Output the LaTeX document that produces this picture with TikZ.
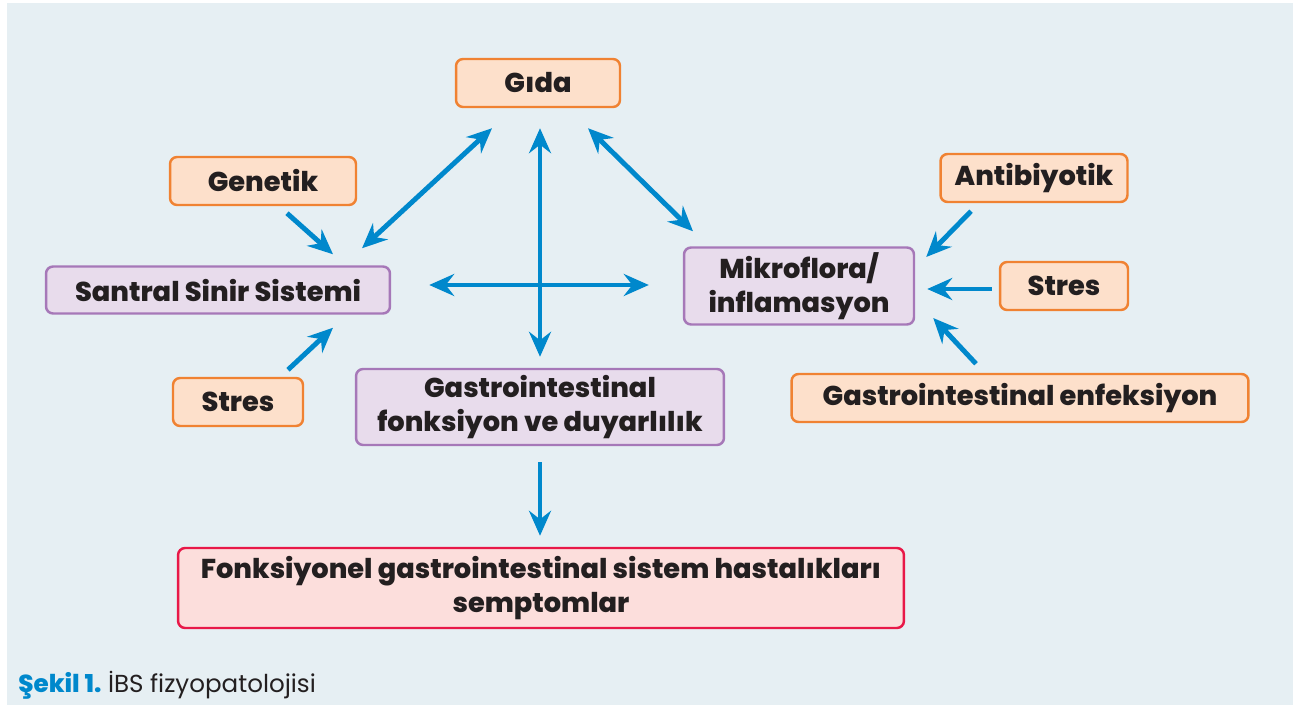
\documentclass[tikz,border=0pt]{standalone}
\usepackage{fontspec}
\setmainfont{Poppins}[BoldFont=* ExtraBold]
\usepackage{tikz}
\usetikzlibrary{arrows.meta, positioning}
\usepackage{xcolor}
\definecolor{bggray}{RGB}{230, 239, 243}
\definecolor{arrowblue}{RGB}{0, 136, 204}
\definecolor{causeorange}{RGB}{240, 130, 50}
\definecolor{causefill}{RGB}{253, 224, 203}
\definecolor{hubpurple}{RGB}{166, 120, 184}
\definecolor{hubfill}{RGB}{232, 220, 236}
\definecolor{resultred}{RGB}{232, 24, 72}
\definecolor{resultfill}{RGB}{252, 222, 220}
\definecolor{textdark}{RGB}{35, 31, 32}

\begin{document}
\begin{tikzpicture}[
    x=0.02cm, y=-0.02cm,
    box/.style={rectangle, rounded corners=4pt, line width=1.4pt, align=center, inner sep=0pt, text=textdark, font=\fontsize{15.5}{19.5}\selectfont\bfseries},
    cause/.style={box, draw=causeorange, fill=causefill, minimum height=0.96cm},
    hub/.style={box, draw=hubpurple, fill=hubfill},
    result/.style={box, draw=resultred, fill=resultfill},
    arrow/.style={-{Stealth[length=5mm, width=4.4mm, inset=1.7mm]}, line width=2.8pt, color=arrowblue},
    twoway/.style={arrow, {Stealth[length=5mm, width=4.4mm, inset=1.7mm]}-{Stealth[length=5mm, width=4.4mm, inset=1.7mm]}},
]

% Page and panel
\useasboundingbox (0, 0) rectangle (1293, 705);
\fill[white] (0, 0) rectangle (1293, 705);
\fill[bggray] (7, 3) rectangle (1293, 705);

% Causes
\node[cause, minimum width=3.28cm] (gida) at (538, 83) {Gıda};
\node[cause, minimum width=3.72cm] (genetik) at (263, 181) {Genetik};
\node[cause, minimum width=2.6cm] (stresL) at (238, 402) {Stres};
\node[cause, minimum width=3.74cm] (antibiyotik) at (1034, 178) {Antibiyotik};
\node[cause, minimum width=2.56cm] (stresR) at (1064, 286) {Stres};
\node[cause, minimum width=9.14cm] (gienf) at (1020, 398) {Gastrointestinal enfeksiyon};

% Central systems
\node[hub, minimum width=6.88cm, minimum height=0.94cm] (sss) at (218, 290) {Santral Sinir Sistemi};
\node[hub, minimum width=4.6cm, minimum height=1.54cm] (mikro) at (799, 286) {Mikroflora/\\inflamasyon};
\node[hub, minimum width=7.36cm, minimum height=1.52cm] (gfd) at (540, 407) {Gastrointestinal\\fonksiyon ve duyarlılık};

% Outcome
\node[result, minimum width=14.52cm, minimum height=1.6cm] (fgsh) at (541, 588) {Fonksiyonel gastrointestinal sistem hastalıkları\\semptomlar};

% Arrows
\draw[arrow] ([shift={(24, 7)}]genetik.south) -- ([shift={(115, -11)}]sss.north);
\draw[arrow] ([shift={(50, -7)}]stresL.north) -- ([shift={(115, 13)}]sss.south);
\draw[twoway] ([shift={(144, -17)}]sss.north) -- ([shift={(-46, 20)}]gida.south);
\draw[twoway] ([shift={(2, 20)}]gida.south) -- ([shift={(0, -11)}]gfd.north);
\draw[twoway] ([shift={(38, -5)}]sss.east) -- ([shift={(-34, -1)}]mikro.west);
\draw[twoway] ([shift={(50, 20)}]gida.south) -- ([shift={(-106, -15)}]mikro.north);
\draw[arrow] ([shift={(0, 16)}]gfd.south) -- ([shift={(-1, -11)}]fgsh.north);
\draw[arrow] ([shift={(-63, 8)}]antibiyotik.south) -- ([shift={(11, -29)}]mikro.east);
\draw[arrow] ([shift={(-7, 3)}]stresR.west) -- ([shift={(12, 3)}]mikro.east);
\draw[arrow] ([shift={(-44, -9)}]gienf.north) -- ([shift={(18, 32)}]mikro.east);

% Caption
\node[anchor=base west, inner sep=0pt, font=\fontsize{14}{16}\selectfont] (caption) at (18, 692) {\textcolor{arrowblue}{\bfseries Şekil 1.}\ \textcolor{textdark}{İBS fizyopatolojisi}};

\end{tikzpicture}
\end{document}
